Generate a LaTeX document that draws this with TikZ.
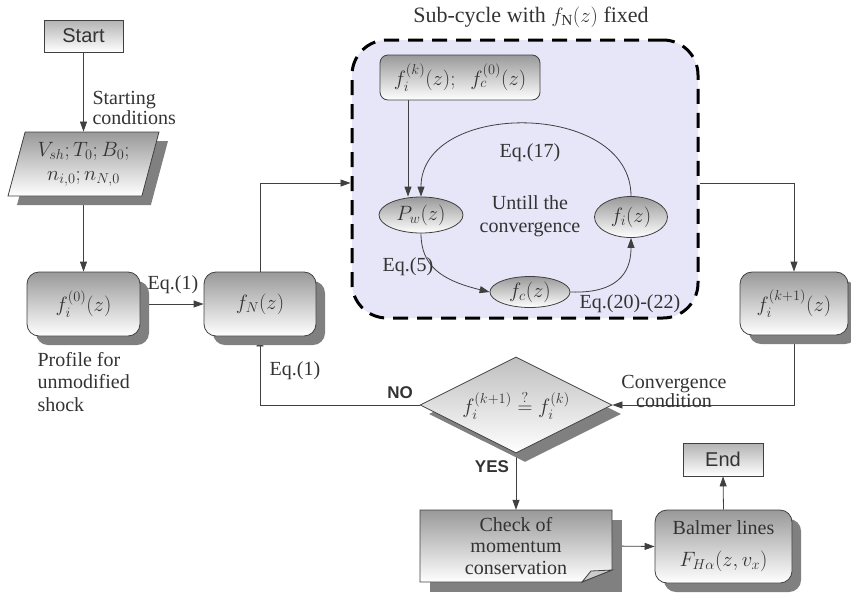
\documentclass[tikz,border=0pt]{standalone}
\usepackage{fontspec}
\setmainfont{Liberation Serif}
\setsansfont{Liberation Sans}
\usepackage{amsmath}
\usetikzlibrary{shapes.geometric,shadows,arrows.meta,calc}
\pgfdeclarelayer{back}
\pgfdeclarelayer{conn}
\pgfsetlayers{back,conn,main}
\definecolor{lav}{HTML}{E6E6F8}
\definecolor{shd}{HTML}{808080}
\definecolor{ink}{HTML}{333333}
\begin{document}
\begin{tikzpicture}[x=1pt,y=-1pt,
  every node/.style={font=\fontsize{20}{22}\selectfont, text=ink},
  gbox/.style={draw=black!75, line width=0.8pt, top color=black!40, bottom color=white, inner sep=0pt},
  shad/.style={drop shadow={shadow xshift=9pt, shadow yshift=-9pt, fill=shd, opacity=1}},
  rbox/.style={gbox, shad, rounded corners=12pt},
  sbox/.style={gbox, top color=black!30, font=\sffamily\fontsize{20}{22}\selectfont},
  ell/.style={gbox, ellipse},
  conn/.style={draw=black!75, line width=0.8pt},
  arr/.style={conn, -{Triangle[length=10pt,width=7pt]}},
  yn/.style={font=\sffamily\bfseries\fontsize{17}{19}\selectfont}]
\useasboundingbox (0,0) rectangle (851,592);

% sub-cycle container
\begin{pgfonlayer}{back}
\node[draw=black, line width=3pt, dash pattern=on 15pt off 9pt, fill=lav,
  rounded corners=35pt, minimum width=346pt, minimum height=278pt] (sub) at (525,179) {};
\end{pgfonlayer}
\node[font=\fontsize{22}{24}\selectfont] at (531,17) {Sub-cycle with $f_{\mathrm{N}}(z)$ fixed};

% main flow nodes
\node[sbox, minimum width=79pt, minimum height=32pt] (start) at (83.5,36) {Start};
\node[gbox, shad, trapezium, trapezium left angle=73, trapezium right angle=107,
  trapezium stretches=true, minimum width=151pt, minimum height=64pt, align=center] (params) at (83.5,164)
  {$V_{sh};T_0;B_0;$\\[2pt]$n_{i,0};n_{N,0}$};
\node[rbox, minimum width=113pt, minimum height=64pt] (fi0) at (83.5,304) {$f_i^{(0)}(z)$};
\node[rbox, minimum width=112pt, minimum height=64pt] (fN) at (260,304) {$f_N(z)$};
\node[rbox, minimum width=108pt, minimum height=63pt] (fk1) at (794,303.5) {$f_i^{(k+1)}(z)$};
\node[gbox, shad, top color=black!25, diamond, minimum width=192pt, minimum height=96pt, aspect=2] (dia) at (516,405)
  {$f_i^{(k+1)}\stackrel{?}{=}f_i^{(k)}$};

% check box with folded corner
\fill[shd] (430,520) rectangle (622,592);
\shade[top color=black!40, bottom color=white, draw=black!75, line width=0.8pt]
  (420,510) -- (612,510) -- (612,570) -- (582,582) -- (420,582) -- cycle;
\filldraw[fill=black!20, draw=black!75, line width=0.8pt] (612,570) -- (582,582) -- (591,571) -- cycle;
\node[minimum width=192pt, minimum height=72pt, inner sep=0pt, align=center,
  font=\fontsize{20}{21.5}\selectfont] (check) at (516,546)
  {Check of\\momentum\\conservation};

\node[rbox, minimum width=137pt, minimum height=73pt, align=center] (balmer) at (723.5,546.5)
  {Balmer lines\\[10pt]$F_{H\alpha}(z,v_x)$};
\node[sbox, minimum width=80pt, minimum height=33pt] (end) at (723,459.5) {End};

% inner nodes
\node[gbox, rounded corners=8pt, minimum width=160pt, minimum height=45pt] (fk) at (460,77.5)
  {$f_i^{(k)}(z);\;\; f_c^{(0)}(z)$};
\node[ell, minimum width=84pt, minimum height=36pt] (Pw) at (421,215) {$P_w(z)$};
\node[ell, minimum width=73pt, minimum height=41pt] (fi) at (631,217) {$f_i(z)$};
\node[ell, minimum width=80pt, minimum height=31pt] (fc) at (530,292) {$f_c(z)$};

% labels
\node[anchor=west, align=left, font=\fontsize{20}{20}\selectfont] at (89,108) {Starting\\conditions};
\node[anchor=west, align=left, font=\fontsize{20}{22.5}\selectfont] at (34,382) {Profile for\\unmodified\\shock};
\node at (173,285) {Eq.(1)};
\node at (295,371) {Eq.(1)};
\node at (530,153) {Eq.(17)};
\node[align=center, font=\fontsize{20}{23}\selectfont] at (530,216) {Untill the\\convergence};
\node at (408,267) {Eq.(5)};
\node at (630,304) {Eq.(20)-(22)};
\node[align=center, font=\fontsize{20}{19}\selectfont] at (674,391) {Convergence\\condition};
\node[yn] at (400,393) {NO};
\node[yn] at (492,467) {YES};

% connectors
\begin{pgfonlayer}{conn}
\coordinate (row) at (0,183);
\coordinate (c408) at (408,0);
\draw[arr] (start) -- (params);
\draw[arr] (params) -- (fi0);
\draw[arr] (fi0) -- (fN);
\draw[arr] (fN.north) |- (sub.west |- row);
\draw[arr] (sub.east |- row) -| (fk1.north);
\draw[arr] (fk1.south) |- (dia.east);
\draw[arr] (dia.west) -| (fN.south);
\draw[arr] (dia.south) -- (check.north);
\draw[arr] (check.east) -- (balmer.west);
\draw[arr] (balmer.north) -- (end.south);
\draw[arr] (fk.south -| c408) -- (Pw.north -| c408);
\draw[arr] (fi.north) .. controls (631,100) and (421,100) .. (Pw.north);
\draw[arr] (Pw.south) .. controls (421,265) and (440,280) .. (fc.west);
\draw[arr] (fc.east) .. controls (625,294) and (631,265) .. (fi.south);
\end{pgfonlayer}
\end{tikzpicture}
\end{document}
